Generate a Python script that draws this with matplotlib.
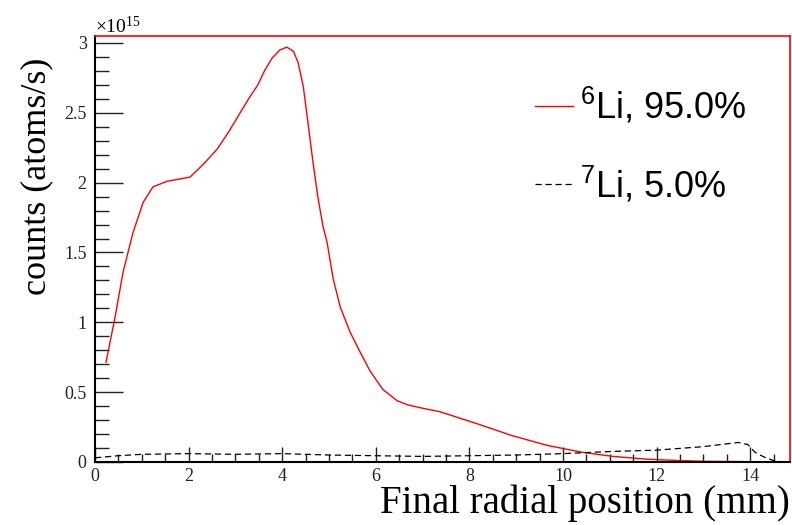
import matplotlib

matplotlib.use("Agg")
import matplotlib.pyplot as plt
from matplotlib.ticker import MultipleLocator

# radial position (mm) and counts (x1e15 atoms/s)
li6_x = [0.235, 0.43, 0.6, 0.81, 1.03, 1.24, 1.54, 2.03, 2.31, 2.61, 2.85,
         3.10, 3.30, 3.48, 3.62, 3.78, 3.95, 4.10, 4.24, 4.34, 4.45, 4.55,
         4.66, 4.76, 4.87, 4.96, 5.09, 5.24, 5.45, 5.66, 5.88, 6.15, 6.45,
         6.67, 7.0, 7.37, 8.2, 8.9, 9.65, 10.4, 11.07, 11.8, 12.5, 13.0,
         14.85]
li6_y = [0.714, 1.04, 1.36, 1.64, 1.86, 1.97, 2.01, 2.04, 2.13, 2.24, 2.36,
         2.50, 2.61, 2.70, 2.80, 2.89, 2.95, 2.97, 2.94, 2.86, 2.69, 2.43,
         2.14, 1.90, 1.69, 1.57, 1.31, 1.11, 0.93, 0.79, 0.65, 0.52, 0.44,
         0.41, 0.385, 0.36, 0.27, 0.19, 0.12, 0.07, 0.04, 0.02, 0.01, 0.005,
         0.0]

li7_x = [0.0, 0.5, 1.0, 2.0, 3.0, 4.0, 5.0, 6.0, 7.0, 8.0, 9.0, 10.0,
         11.0, 12.0, 13.0, 13.5, 13.75, 13.95, 14.1, 14.3, 14.5, 14.7, 14.85]
li7_y = [0.03, 0.045, 0.055, 0.06, 0.055, 0.06, 0.05, 0.045, 0.04, 0.045,
         0.05, 0.06, 0.075, 0.085, 0.11, 0.13, 0.14, 0.125, 0.07, 0.035,
         0.01, 0.0, 0.0]

labels = ["$\\mathregular{^{6}}$Li, 95.0%", "$\\mathregular{^{7}}$Li, 5.0%"]

W, H = 792, 525
fig = plt.figure(figsize=(W / 100, H / 100), dpi=100)
ax = fig.add_axes([95 / W, (H - 462) / H, (790 - 95) / W, (462 - 36) / H])

ax.plot(li6_x, li6_y, color="red", lw=1.0, label=labels[0])
ax.plot(li7_x, li7_y, color="black", lw=0.9, dashes=(5, 3), label=labels[1])

ax.set_xlim(0, 14.85)
ax.set_ylim(0, 3.05)

ax.xaxis.set_major_locator(MultipleLocator(2))
ax.xaxis.set_minor_locator(MultipleLocator(0.5))
ax.yaxis.set_major_locator(MultipleLocator(0.5))
ax.yaxis.set_minor_locator(MultipleLocator(0.1))
ax.yaxis.set_major_formatter(plt.FuncFormatter(lambda v, p: f"{v:g}"))

serif = "Liberation Serif"
ax.tick_params(direction="in", which="both", labelsize=13, width=1,
               top=False, right=False, colors="#222222")
ax.tick_params(axis="y", which="major", length=20, pad=6)
ax.tick_params(axis="y", which="minor", length=10)
ax.tick_params(axis="x", which="major", length=11, pad=4)
ax.tick_params(axis="x", which="minor", length=6)
for lab in ax.get_xticklabels() + ax.get_yticklabels():
    lab.set_fontfamily(serif)

for side in ("top", "right"):
    ax.spines[side].set_color("red")
    ax.spines[side].set_linewidth(1.2)
for side in ("left", "bottom"):
    ax.spines[side].set_color("black")
    ax.spines[side].set_linewidth(1.5)

ax.set_xlabel("Final radial position (mm)", family=serif, fontsize=28,
              ha="right", x=1.0, labelpad=0)
ax.set_ylabel("counts (atoms/s)", family=serif, fontsize=26,
              ha="right", y=1.0 - 22 / 426, labelpad=8)

fig.text(95 / W, 1 - 26 / H, "\u00d710$\\mathregular{^{15}}$", family=serif,
         fontsize=14, ha="left", va="center")

leg = ax.legend(loc="upper left", bbox_to_anchor=(535 / W, 1 - 86 / H),
                bbox_transform=fig.transFigure, frameon=False,
                prop={"family": "Liberation Sans", "size": 26},
                handlelength=1.05, handletextpad=0.2, labelspacing=1.07,
                borderpad=0, borderaxespad=0)

fig.savefig("out.png", dpi=100)
